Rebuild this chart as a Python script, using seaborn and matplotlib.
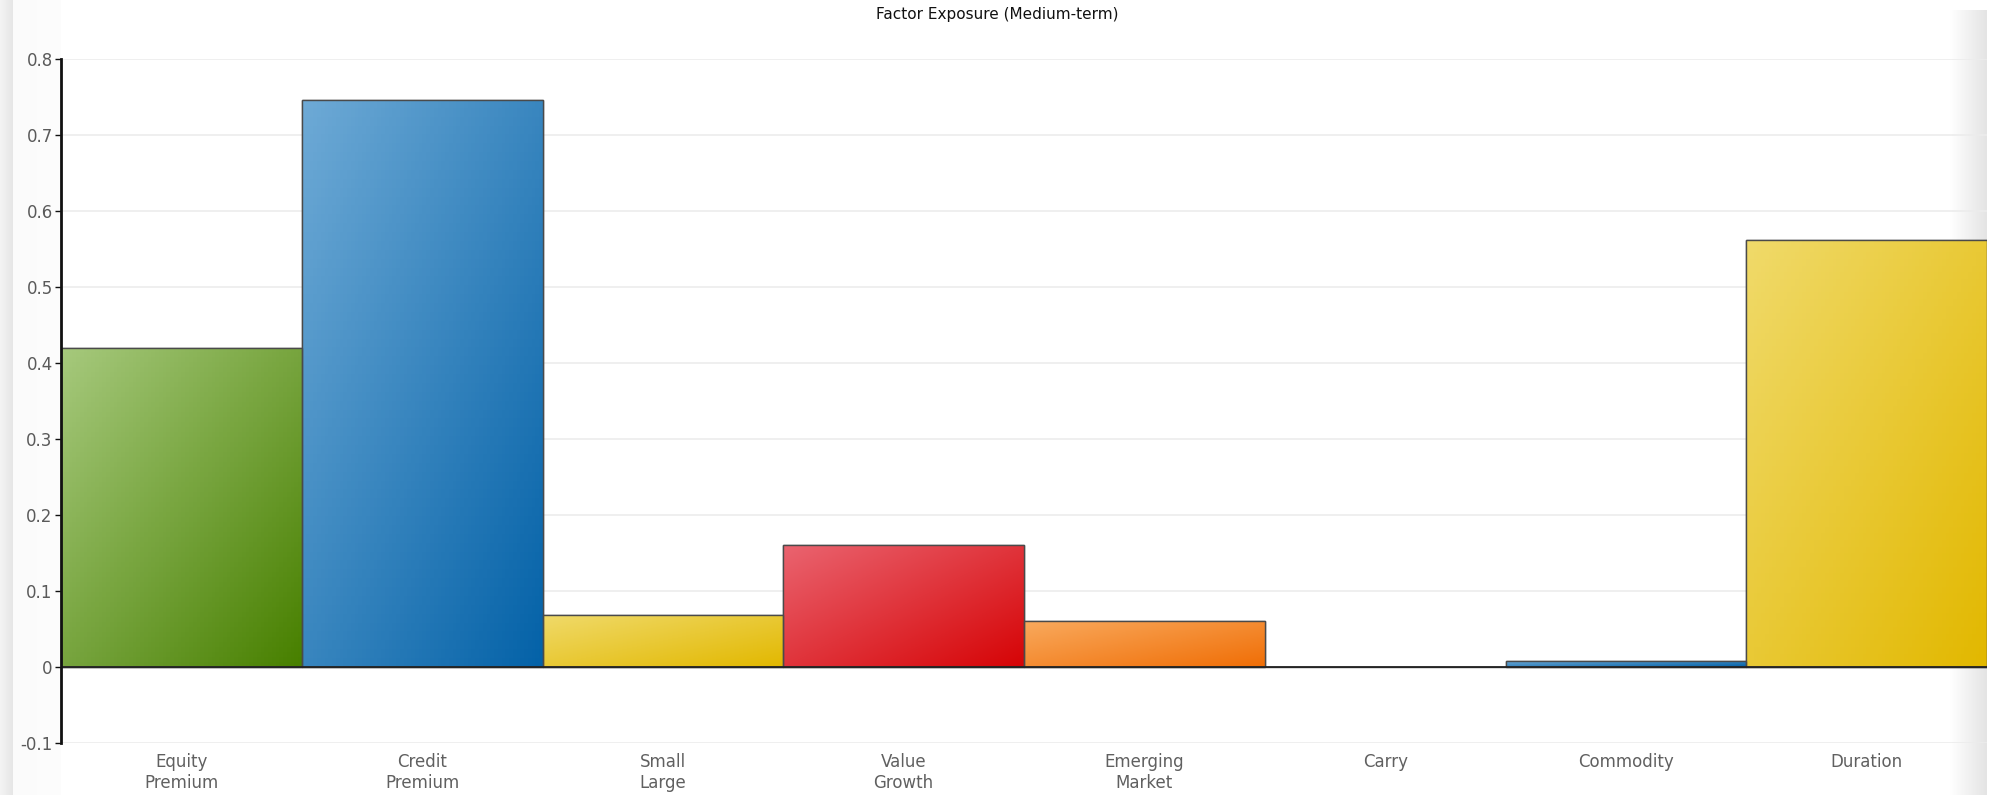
import numpy as np
import pandas as pd
import matplotlib
matplotlib.use("Agg")
import matplotlib.pyplot as plt
import seaborn as sns
from matplotlib.colors import to_rgb

categories = ["Equity\nPremium", "Credit\nPremium", "Small\nLarge", "Value\nGrowth",
              "Emerging\nMarket", "Carry", "Commodity", "Duration"]
values = [0.42, 0.746, 0.069, 0.161, 0.061, 0.0, 0.008, 0.562]
light_colors = ["#a6c97c", "#6eaad6", "#f0da6a", "#ea6470", "#f9aa5e", "#6eaad6", "#6eaad6", "#f0da6a"]
dark_colors = ["#488000", "#0462a8", "#e2b800", "#d60406", "#f06e06", "#0462a8", "#0462a8", "#e2b800"]
yticks = [-0.1, 0, 0.1, 0.2, 0.3, 0.4, 0.5, 0.6, 0.7, 0.8]
ytick_labels = ["-0.1", "0", "0.1", "0.2", "0.3", "0.4", "0.5", "0.6", "0.7", "0.8"]
title = "Factor Exposure (Medium-term)"

sns.set_theme(style="white")
plt.rcParams['font.family'] = ['DejaVu Sans']

W, H = 1995, 795
fig = plt.figure(figsize=(W / 100, H / 100), dpi=100)
fig.patch.set_facecolor("white")

# background side bands
def band(x0, w, c0, c1, y0=0.0, h=1.0):
    bax = fig.add_axes([x0 / W, y0, w / W, h], zorder=-5)
    g = np.linspace(0, 1, 64)[None, :, None]
    a = np.array(to_rgb(c0))[None, None, :]
    b = np.array(to_rgb(c1))[None, None, :]
    bax.imshow(a * (1 - g) + b * g, aspect="auto", extent=[0, 1, 0, 1])
    bax.set_axis_off()

band(0, 13, "#f4f4f4", "#e6e6e6")
band(13, 48, "#fbfbfb", "#fdfdfd")
band(1950, 37, "#ffffff", "#e4e4e4", y0=0.0, h=1 - 10 / H)

ax = fig.add_axes([61 / W, 1 - 743 / H, (1987 - 61) / W, (743 - 58.7) / H], zorder=1)
ax.patch.set_alpha(0)

df = pd.DataFrame({"cat": categories, "val": values})
sns.barplot(data=df, x="cat", y="val", hue="cat", palette=dark_colors, width=1.0,
            dodge=False, legend=False, ax=ax, edgecolor="#4a4a4a", linewidth=1.0,
            saturation=1, zorder=3)

ax.set_xlim(-0.5, 7.5)
ax.set_ylim(-0.1, 0.8)

# gradient fills clipped to each bar
for i, p in enumerate(ax.patches):
    x0, y0 = p.get_x(), p.get_y()
    w, h = p.get_width(), p.get_height()
    if h == 0:
        continue
    n = 64
    u = np.linspace(0, 1, n)[None, :]
    v = np.linspace(0, 1, n)[:, None]
    t = (u + v) / 2.0  # top-left light -> bottom-right dark (image origin upper)
    a = np.array(to_rgb(light_colors[i]))
    b = np.array(to_rgb(dark_colors[i]))
    img = a[None, None, :] * (1 - t[..., None]) + b[None, None, :] * t[..., None]
    im = ax.imshow(img, extent=[x0, x0 + w, y0, y0 + h], aspect="auto", zorder=3.5,
                   origin="upper")
    im.set_clip_path(p)
    ax.add_patch(plt.Rectangle((x0, y0), w, h, fill=False, edgecolor="#4a4a4a",
                               linewidth=1.0, zorder=4))
ax.set_xlim(-0.5, 7.5)
ax.set_ylim(-0.1, 0.8)

# grid lines
for yv in yticks:
    if yv == 0:
        continue
    ax.axhline(yv, color="#ececec", linewidth=1.2, zorder=1)
ax.axhline(0, color="#222222", linewidth=1.3, zorder=5)

for s in ["top", "right", "bottom"]:
    ax.spines[s].set_visible(False)
ax.spines["left"].set_color("#111111")
ax.spines["left"].set_linewidth(2)
ax.spines["left"].set_zorder(6)

ax.set_yticks(yticks)
ax.set_yticklabels(ytick_labels, fontsize=12, color="#5a5a5a")
ax.tick_params(axis="y", length=4, width=1, color="#111111", pad=2, left=True)
ax.set_xticks(range(len(categories)))
ax.set_xticklabels(categories, fontsize=12, color="#606060", linespacing=1.25)
ax.tick_params(axis="x", length=0, pad=7)
ax.set_xlabel("")
ax.set_ylabel("")

fig.text(0.5, 1 - 14 / H, title, ha="center", va="center", fontsize=11, color="#111111")

fig.savefig("out.png", dpi=100)
